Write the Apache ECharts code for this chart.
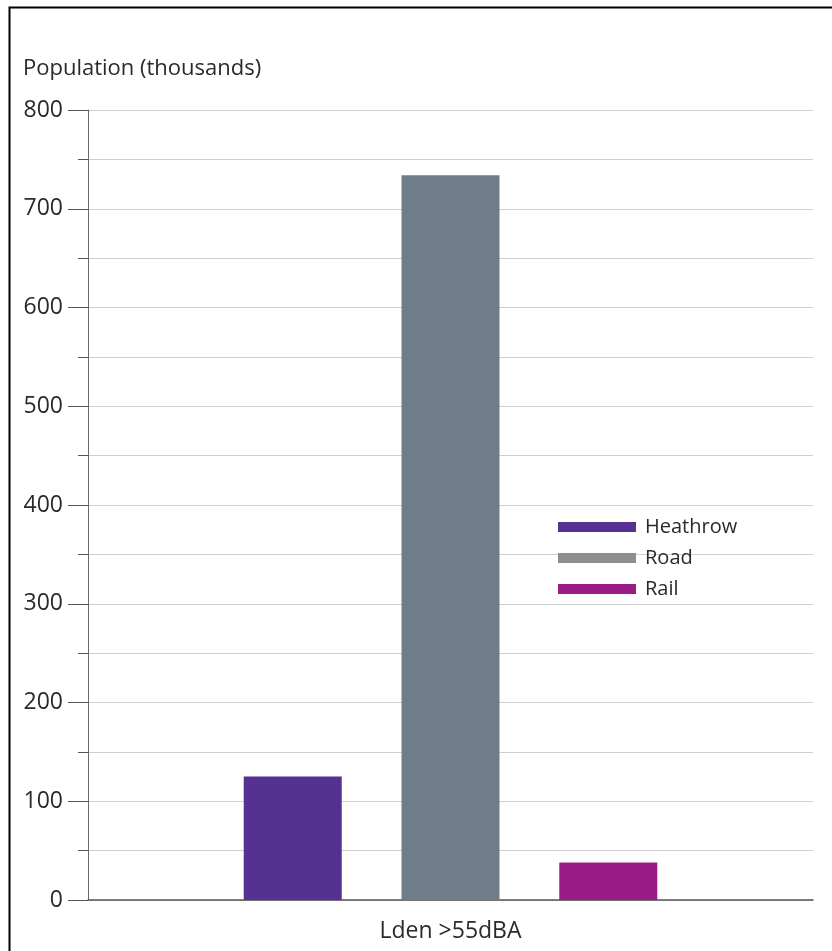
<!DOCTYPE html>
<html>
<head>
<meta charset="utf-8">
<script src="https://cdn.jsdelivr.net/npm/echarts@6/dist/echarts.min.js"></script>
<style>html,body{margin:0;padding:0;background:#fff;}#c{width:832px;height:951px;}</style>
</head>
<body>
<div id="c"></div>
<script>
const categories = ['Lden >55dBA'];
const seriesNames = ['Heathrow', 'Road', 'Rail'];
const heathrow = [125];
const road = [734];
const rail = [38];
const yTicks = [0, 100, 200, 300, 400, 500, 600, 700, 800];

const barColors = ['#553191', '#6f7d8a', '#9b1c86'];
const legendColors = ['#553191', '#8e8e92', '#9b1c86'];
const FONT = 'Open Sans';

const chart = echarts.init(document.getElementById('c'), null, {renderer: 'canvas'});
const values = [heathrow, road, rail];
chart.setOption({
  animation: false,
  backgroundColor: '#fff',
  textStyle: {fontFamily: FONT},
  title: {
    text: 'Population (thousands)',
    left: 23, top: 58, padding: 0,
    textStyle: {fontFamily: FONT, fontSize: 22, fontWeight: 'normal', color: '#2a2a2a'}
  },
  graphic: [{
    type: 'rect', left: 7, top: 5, silent: true,
    shape: {width: 900, height: 1000},
    style: {fill: 'none', stroke: '#000', lineWidth: 2}
  }],
  legend: {
    orient: 'vertical',
    left: 558, top: 515, padding: 0,
    icon: 'rect',
    itemWidth: 78, itemHeight: 10,
    itemGap: 7,
    textStyle: {fontFamily: FONT, fontSize: 20, color: '#2a2a2a', lineHeight: 24, padding: [0, 0, 0, 4]},
    data: seriesNames.map((n, i) => ({name: n, itemStyle: {color: legendColors[i]}}))
  },
  grid: {left: 88, right: 19, top: 110, bottom: 51, containLabel: false},
  xAxis: {
    type: 'category',
    data: categories,
    axisLine: {lineStyle: {color: '#555', width: 1.5}},
    axisTick: {show: false},
    axisLabel: {fontFamily: FONT, fontSize: 23, color: '#2a2a2a', margin: 20}
  },
  yAxis: {
    type: 'value',
    min: 0, max: 800, interval: 100,
    axisLine: {show: true, lineStyle: {color: '#666', width: 1}},
    axisTick: {show: true, length: 20, lineStyle: {color: '#555'}},
    minorTick: {show: true, splitNumber: 2, length: 10, lineStyle: {color: '#555'}},
    splitLine: {show: true, lineStyle: {color: '#cfcfcf', width: 1}},
    minorSplitLine: {show: true, lineStyle: {color: '#cfcfcf', width: 1}},
    axisLabel: {fontFamily: FONT, fontSize: 23, color: '#2a2a2a', margin: 25,
      formatter: v => (yTicks.indexOf(v) >= 0 ? String(v) : '')}
  },
  series: seriesNames.map((n, i) => ({
    name: n, type: 'bar',
    data: values[i],
    barWidth: 98,
    barGap: '61%',
    itemStyle: {color: barColors[i]}
  }))
});
</script>
</body>
</html>
